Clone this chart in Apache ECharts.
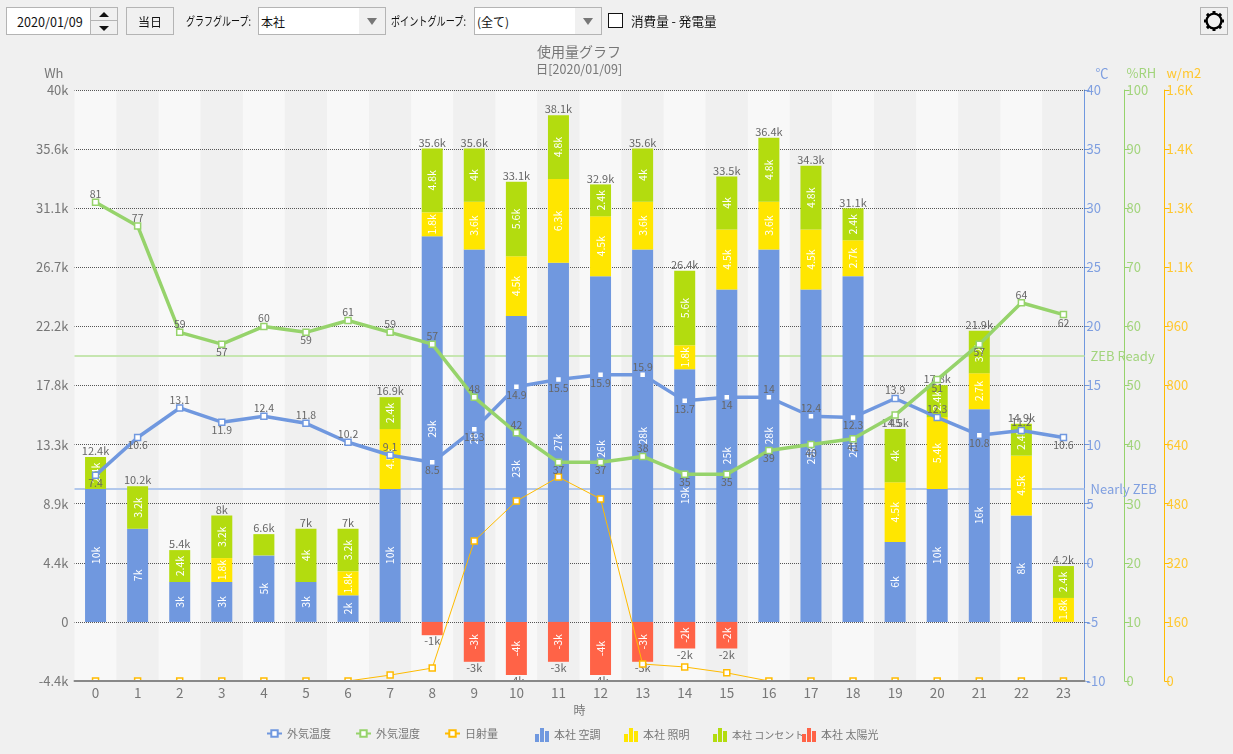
<!DOCTYPE html>
<html lang="ja"><head><meta charset="utf-8">
<title>使用量グラフ</title>
<script src="https://cdn.jsdelivr.net/npm/echarts@6/dist/echarts.min.js"></script>
<style>
html,body{margin:0;padding:0;background:#f0f0f0;width:1233px;height:754px;overflow:hidden;font-family:"Noto Sans CJK JP","Noto Sans",sans-serif;}
#chart{position:absolute;left:0;top:0;width:1233px;height:754px;}
.c{position:absolute;box-sizing:border-box;font-size:12px;color:#111;line-height:27px;white-space:nowrap;}
.box{border:1px solid #b4b4b4;height:28px;top:7px;}
.white{background:#fff;}
.arr{position:absolute;width:0;height:0;border-left:5px solid transparent;border-right:5px solid transparent;}
.narrow{transform-origin:left center;}
</style></head><body>
<div id="chart"></div>
<div class="c box white" style="left:6px;width:112px;padding-left:10px;font-size:12.6px">2020/01/09</div>
<div class="c" style="left:90px;top:7px;width:28px;height:28px;background:#f0f0f0;border:1px solid #b4b4b4;">
  <div style="position:absolute;left:0;right:0;top:12px;height:1px;background:#b4b4b4"></div>
  <div class="arr" style="left:8px;top:4px;border-bottom:5px solid #111"></div>
  <div class="arr" style="left:8px;top:18px;border-top:5px solid #111"></div>
</div>
<div class="c box" style="left:126px;width:48px;text-align:center;">当日</div>
<div class="c narrow" style="left:186px;top:7px;transform:scaleX(.75)">グラフグループ:</div>
<div class="c box white" style="left:258px;width:128px;padding-left:2px;">本社</div>
<div class="c" style="left:359px;top:8px;width:26px;height:26px;background:#f0f0f0"><div class="arr" style="left:8px;top:10px;border-width:7px 5px 0;border-top:7px solid #777"></div></div>
<div class="c narrow" style="left:391px;top:7px;transform:scaleX(.76)">ポイントグループ:</div>
<div class="c box white" style="left:474px;width:128px;padding-left:2px;">(全て)</div>
<div class="c" style="left:575px;top:8px;width:26px;height:26px;background:#f0f0f0"><div class="arr" style="left:8px;top:10px;border-width:7px 5px 0;border-top:7px solid #777"></div></div>
<div class="c white" style="left:608px;top:13px;width:15px;height:15px;border:1px solid #111"></div>
<div class="c" style="left:631px;top:7px;font-size:12.6px">消費量 - 発電量</div>
<div class="c box" style="left:1200px;width:28px;">
  <svg width="26" height="26" viewBox="-13 -13 26 26" style="position:absolute;left:0;top:0">
    <g fill="#000"><circle r="7.4" fill="none" stroke="#000" stroke-width="2.4"/>
      <rect x="-1.5" y="-10" width="3" height="3" />
      <rect x="-1.5" y="-10" width="3" height="3" transform="rotate(45)"/>
      <rect x="-1.5" y="-10" width="3" height="3" transform="rotate(90)"/>
      <rect x="-1.5" y="-10" width="3" height="3" transform="rotate(135)"/>
      <rect x="-1.5" y="-10" width="3" height="3" transform="rotate(180)"/>
      <rect x="-1.5" y="-10" width="3" height="3" transform="rotate(225)"/>
      <rect x="-1.5" y="-10" width="3" height="3" transform="rotate(270)"/>
      <rect x="-1.5" y="-10" width="3" height="3" transform="rotate(315)"/>
    </g>
  </svg>
</div>
<script>
const hours = ['0','1','2','3','4','5','6','7','8','9','10','11','12','13','14','15','16','17','18','19','20','21','22','23'];
const hvac  = [10000,7000,3000,3000,5000,3000,2000,10000,29000,28000,23000,27000,26000,28000,19000,25000,28000,25000,26000,6000,10000,16000,8000,0];
const light = [0,0,0,1800,0,0,1800,4500,1800,3600,4500,6300,4500,3600,1800,4500,3600,4500,2700,4500,5400,2700,4500,1800];
const outlet= [2400,3200,2400,3200,1600,4000,3200,2400,4800,4000,5600,4800,2400,4000,5600,4000,4800,4800,2400,4000,2400,3200,2400,2400];
const solar = [0,0,0,0,0,0,0,0,-1000,-3000,-4000,-3000,-4000,-3000,-2000,-2000,0,0,0,0,0,0,0,0];
const totals= [12400,10200,5400,8000,6600,7000,7000,16900,35600,35600,33100,38100,32900,35600,26400,33500,36400,34300,31100,14500,17800,21900,14900,4200];
const temperature = [7.4,10.6,13.1,11.9,12.4,11.8,10.2,9.1,8.5,11.3,14.9,15.5,15.9,15.9,13.7,14,14,12.4,12.3,13.9,12.3,10.8,11.2,10.6];
const humidity = [81,77,59,57,60,59,61,59,57,48,42,37,37,38,35,35,39,40,41,45,51,57,64,62];
const irradiance = [0,0,0,0,0,0,0,16,35,379,487,552,493,46,38,22,0,0,0,0,0,0,0,0];
const tempSides = 'bbtbttttbbbbbtbbttbttbtb';
const humSides  = 'tttbtbttttt'+'bbtbbbbbbbbtb';
const refLines = [{name:'ZEB Ready',value:20000,color:'#c6e6b0',text:'#a2d47c'},{name:'Nearly ZEB',value:10000,color:'#b2c8ec',text:'#7f9fe0'}];
const legendNames = ['外気温度','外気湿度','日射量','本社 空調','本社 照明','本社 コンセント','本社 太陽光'];
const legendLeft = [266,355,444,535,624,713,802];

const BLUE='#7098df',GREEN='#96d36b',ORANGE='#ffbb00',YEL='#ffe600',LIME='#b3dc0f',RED='#ff6347';
const FONT='"Noto Sans CJK JP","Noto Sans",sans-serif', GREY='#777';
const gridL=74.5, gridT=90, gridW=1010, gridH=591;
const fmtK=v=>{ if(Math.abs(v)<1e-6) return '0'; return (+(v/1000).toFixed(1))+'k'; };
const inner=p=>Math.abs(p.value)>=1800?fmtK(p.value):'';
const barPath='path://M0 6H4V14H0Z M5 0H9V14H5Z M10 3H14V14H10Z';
function bar(name,data,color){return {name,type:'bar',stack:'u',data,barWidth:21,z:2,xAxisIndex:0,yAxisIndex:0,
  itemStyle:{color},label:{show:true,position:'inside',rotate:90,color:'#fff',fontSize:10.5,fontFamily:FONT,formatter:inner}};}
function line(name,data,axis,color,width,sides){
  return {name,type:'line',yAxisIndex:axis,xAxisIndex:0,z:4,clip:false,
  symbol:'rect',symbolSize:6,showAllSymbol:true,lineStyle:{color,width},itemStyle:{color:'#fff',borderColor:color,borderWidth:1.5},
  label:sides?{show:true,color:'#666',fontSize:10.5,fontFamily:FONT,distance:-1,position:'top'}:{show:false},
  emphasis:{disabled:true},
  data:sides?data.map((v,i)=>({value:v,label:{position:sides[i]==='t'?'top':'bottom'}})):data};}
const hiddenLine=(name,data,pos)=>({name,type:'line',data,yAxisIndex:0,xAxisIndex:0,z:3,symbol:'circle',symbolSize:1,showAllSymbol:true,
  lineStyle:{opacity:0,width:0},itemStyle:{color:'transparent',borderWidth:0},emphasis:{disabled:true},
  label:{show:true,position:pos,distance:0,color:'#666',fontSize:11,fontFamily:FONT,formatter:p=>p.value?fmtK(p.value):''},silent:true});
const rightAxis=(color,text,name,offset,min,max,interval,fmt,pad)=>({type:'value',position:'right',offset,min,max,interval,name,
  nameLocation:'end',nameGap:10,nameTextStyle:{color:text,fontSize:13,fontFamily:FONT,align:'left',padding:pad},
  axisLine:{show:true,lineStyle:{color,width:1}},axisTick:{show:true,length:5,lineStyle:{color,width:1}},
  axisLabel:{color:text,fontSize:13,fontFamily:FONT,margin:2,formatter:fmt},splitLine:{show:false},alignTicks:false});

const opt={animation:false,backgroundColor:'#f0f0f0',textStyle:{fontFamily:FONT},
 title:{text:'使用量グラフ',subtext:'日[2020/01/09]',left:574,top:40,textAlign:'center',itemGap:4,
   textStyle:{color:GREY,fontSize:14,fontWeight:'normal',fontFamily:FONT},subtextStyle:{color:GREY,fontSize:12.5,fontFamily:FONT}},
 legend:legendNames.map((n,i)=>({show:true,left:legendLeft[i],top:728,padding:0,itemWidth:i>2?14:15,itemHeight:i>2?14:8,itemGap:0,
   textStyle:{color:GREY,fontSize:n.length>6?10:11,fontFamily:FONT},selectedMode:false,
   data:[i>2?{name:n,icon:barPath}:{name:n}]})),
 grid:{left:gridL,top:gridT,width:gridW,height:gridH,containLabel:false},
 xAxis:[
  {type:'category',data:hours,position:'bottom',axisLine:{show:false},axisTick:{show:false},axisLabel:{show:false},
   splitArea:{show:true,areaStyle:{color:['#f8f8f8','#f0f0f0']}},splitLine:{show:false}},
  {type:'category',data:hours,position:'bottom',z:20,axisLine:{show:true,onZero:false,lineStyle:{color:'#888',width:2}},axisTick:{show:false},
   axisLabel:{color:GREY,fontSize:13.5,fontFamily:FONT,margin:5},splitArea:{show:false},splitLine:{show:false},
   name:'時',nameLocation:'middle',nameGap:22,nameTextStyle:{color:GREY,fontSize:12,fontFamily:FONT}}
 ],
 yAxis:[
  {type:'value',position:'left',z:1,min:-40000/9,max:40000,interval:40000/9,name:'Wh',nameLocation:'end',nameGap:10,
   nameTextStyle:{color:GREY,fontSize:13,fontFamily:FONT,align:'right',padding:[0,11,0,0]},
   axisLine:{show:false},axisTick:{show:false},axisLabel:{color:GREY,fontSize:13,fontFamily:FONT,margin:6,formatter:fmtK},
   splitLine:{show:true,lineStyle:{color:'#555',type:[1,1],dashOffset:0.5,width:1}}},
  rightAxis(BLUE,'#7f9fe0','℃',0,-10,40,5,v=>String(v),[0,0,0,11]),
  rightAxis(GREEN,'#a2d47c','%RH',40,0,100,10,v=>String(v),[0,0,0,2]),
  rightAxis(ORANGE,'#ffc72e','w/m2',80,0,1600,160,v=>v>=1000?(v/1000).toFixed(1)+'K':String(v),[0,0,0,2])
 ],
 graphic:[{type:'rect',z:10,silent:true,shape:{x:gridL-2,y:gridT+gridH+0.5,width:gridW+4,height:6},style:{fill:'#f0f0f0'}}],
 series:[
  Object.assign(hiddenLine('合計',totals,'top'),{markLine:{silent:true,symbol:'none',z:1,animation:false,
    data:refLines.map(r=>({yAxis:r.value,lineStyle:{color:r.color,width:2,type:'solid'},
      label:{show:true,position:'end',formatter:r.name,color:r.text,fontSize:13,fontFamily:FONT,distance:6}}))}}),
  hiddenLine('太陽光合計',solar,'bottom'),
  bar('本社 空調',hvac,BLUE),
  bar('本社 照明',light,YEL),
  bar('本社 コンセント',outlet,LIME),
  bar('本社 太陽光',solar,RED),
  line('外気温度',temperature,1,BLUE,3.5,tempSides),
  line('外気湿度',humidity,2,GREEN,3.5,humSides),
  line('日射量',irradiance,3,ORANGE,1,null)
 ]};
const chart=echarts.init(document.getElementById('chart'));
chart.setOption(opt);
</script>
</body></html>
